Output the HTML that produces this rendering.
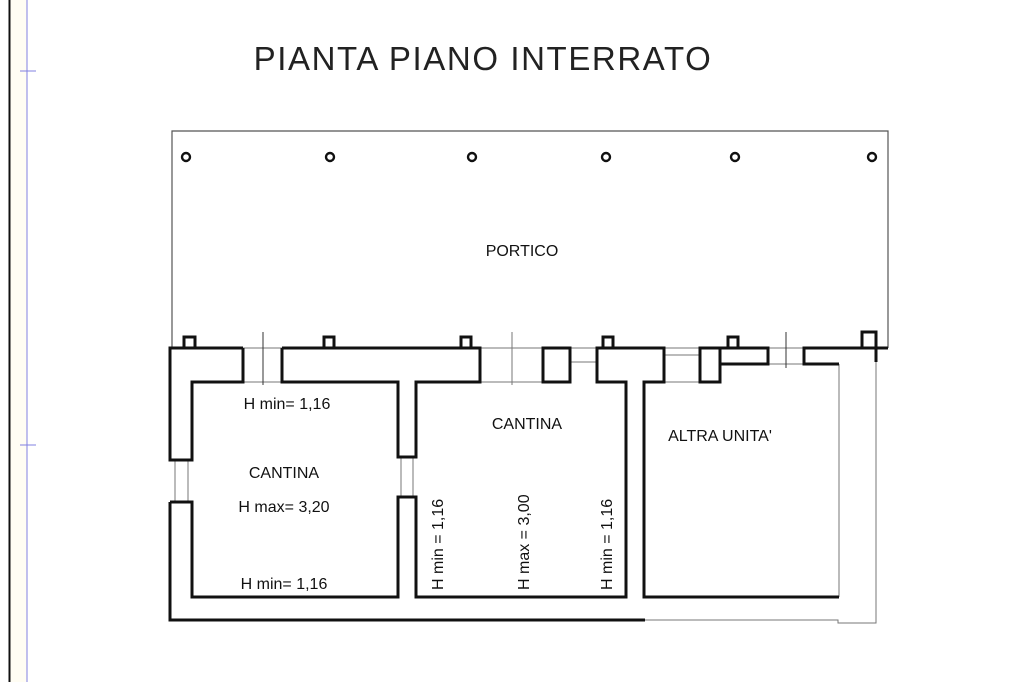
<!DOCTYPE html>
<html><head><meta charset="utf-8"><style>
html,body{margin:0;padding:0;background:#fff;}
svg{display:block;}
text{font-family:"Liberation Sans",Arial,sans-serif;fill:#111;}
</style></head><body>
<svg width="1024" height="682" viewBox="0 0 1024 682" xmlns="http://www.w3.org/2000/svg">
<rect x="10" y="0" width="17" height="682" fill="#fffdf3"/>
<line x1="9.5" y1="0" x2="9.5" y2="682" stroke="#111" stroke-width="2"/>
<line x1="27" y1="0" x2="27" y2="682" stroke="#8080e0" stroke-width="1"/>
<line x1="20" y1="71" x2="36" y2="71" stroke="#8080e0" stroke-width="1"/>
<line x1="20" y1="445" x2="36" y2="445" stroke="#8080e0" stroke-width="1"/>

<text x="483" y="70" font-size="33" letter-spacing="1.6" text-anchor="middle" style="fill:#222">PIANTA PIANO INTERRATO</text>

<!-- portico -->
<polyline points="172,348 172,131 888,131 888,348" fill="none" stroke="#555" stroke-width="1.2"/>
<g fill="none" stroke="#111" stroke-width="2.4">
<circle cx="186" cy="157" r="4"/><circle cx="330" cy="157" r="4"/><circle cx="472" cy="157" r="4"/>
<circle cx="606" cy="157" r="4"/><circle cx="735" cy="157" r="4"/><circle cx="872" cy="157" r="4"/>
</g>
<text x="522" y="256" font-size="16" text-anchor="middle">PORTICO</text>

<!-- thin lines -->
<g stroke="#777" stroke-width="1" fill="none">
<line x1="170" y1="348" x2="888" y2="348"/>
<line x1="480" y1="382" x2="543" y2="382"/>
<line x1="570" y1="362" x2="597" y2="362"/>
<line x1="664" y1="355" x2="700" y2="355"/>
<line x1="664" y1="382" x2="700" y2="382"/>
<line x1="768" y1="364" x2="804" y2="364"/>
<line x1="243" y1="382" x2="282" y2="382"/>
<line x1="263" y1="332" x2="263" y2="385" stroke="#333"/>
<line x1="512" y1="332" x2="512" y2="385"/>
<line x1="786" y1="332" x2="786" y2="368" stroke="#333"/>
<line x1="175" y1="460" x2="175" y2="502"/><line x1="188" y1="460" x2="188" y2="502"/>
<line x1="401" y1="457" x2="401" y2="497"/><line x1="413" y1="457" x2="413" y2="497"/>
<polyline points="645,620 838,620 838,623 876,623 876,348"/>
<line x1="839" y1="364" x2="839" y2="597"/>
</g>

<!-- thick walls -->
<g fill="none" stroke="#111" stroke-width="3">
<polyline points="243,348 170,348 170,460 192,460 192,382 243,382 243,348"/>
<polyline points="170,502 192,502 192,597 398,597 398,497 416,497 416,597 626,597 626,382 597,382 597,348 664,348 664,382 644,382 644,597 839,597"/>
<polyline points="170,502 170,620 645,620"/>
<polyline points="282,348 480,348 480,382 416,382 416,457 398,457 398,382 282,382 282,348"/>
<rect x="543" y="348" width="27" height="34"/>
<rect x="700" y="348" width="20" height="34"/>
<rect x="720" y="348" width="48" height="16"/>
<polyline points="839,364 804,364 804,348 888,348"/>
<rect x="184" y="337" width="11" height="11"/>
<rect x="324" y="337" width="10" height="11"/>
<rect x="461" y="337" width="10" height="11"/>
<rect x="603" y="337" width="10" height="11"/>
<rect x="728" y="337" width="10" height="11"/>
<polyline points="862,348 862,332 876,332 876,362"/>
</g>

<text x="287" y="409" font-size="16" text-anchor="middle">H min= 1,16</text>
<text x="284" y="478" font-size="16" text-anchor="middle">CANTINA</text>
<text x="284" y="512" font-size="16" text-anchor="middle">H max= 3,20</text>
<text x="284" y="589" font-size="16" text-anchor="middle">H min= 1,16</text>
<text x="527" y="429" font-size="16" text-anchor="middle">CANTINA</text>
<text x="720" y="441" font-size="16" text-anchor="middle">ALTRA UNITA'</text>
<text transform="translate(443,590) rotate(-90)" font-size="16">H min = 1,16</text>
<text transform="translate(529,590) rotate(-90)" font-size="16">H max = 3,00</text>
<text transform="translate(612,590) rotate(-90)" font-size="16">H min = 1,16</text>
</svg>
</body></html>
